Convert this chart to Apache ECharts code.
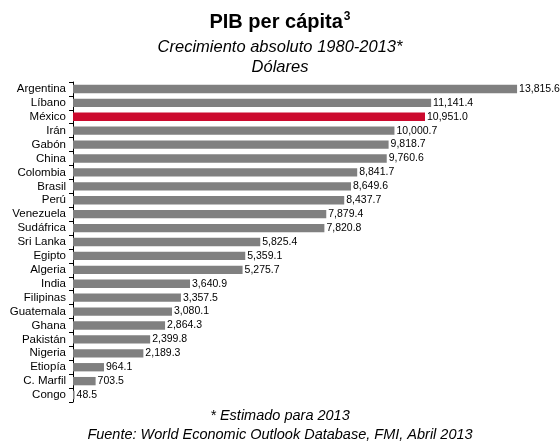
<!DOCTYPE html>
<html>
<head>
<meta charset="utf-8">
<script src="https://cdn.jsdelivr.net/npm/echarts@6/dist/echarts.min.js"></script>
<style>
  html, body { margin: 0; padding: 0; background: #fff; }
  #chart { width: 560px; height: 441px; }
</style>
</head>
<body>
<div id="chart"></div>
<script>
// Countries, top to bottom
const countries = ['Argentina','Líbano','México','Irán','Gabón','China','Colombia','Brasil','Perú','Venezuela','Sudáfrica','Sri Lanka','Egipto','Algeria','India','Filipinas','Guatemala','Ghana','Pakistán','Nigeria','Etiopía','C. Marfil','Congo'];
// Absolute growth of GDP per capita 1980-2013, dollars
const growth = [13815.6,11141.4,10951.0,10000.7,9818.7,9760.6,8841.7,8649.6,8437.7,7879.4,7820.8,5825.4,5359.1,5275.7,3640.9,3357.5,3080.1,2864.3,2399.8,2189.3,964.1,703.5,48.5];
const highlight = 'México';

const FONT = '"Liberation Sans", Arial, sans-serif';
const fmt = v => v.toLocaleString('en-US', { minimumFractionDigits: 1, maximumFractionDigits: 1 });

const chart = echarts.init(document.getElementById('chart'));
chart.setOption({
  animation: false,
  title: [
    {
      text: '{t|PIB per cápita}{s|3}',
      left: 'center', top: 6,
      textStyle: {
        rich: {
          t: { fontFamily: FONT, fontSize: 20, fontWeight: 'bold', color: '#000' },
          s: { fontFamily: FONT, fontSize: 12, fontWeight: 'bold', color: '#000', verticalAlign: 'top', padding: [0, 0, 10, 1] }
        }
      }
    },
    {
      text: 'Crecimiento absoluto 1980-2013*\nDólares',
      left: 'center', top: 32,
      textStyle: { fontFamily: FONT, fontSize: 16.5, fontStyle: 'italic', fontWeight: 'normal', color: '#000', lineHeight: 20 }
    },
    {
      text: '* Estimado para 2013\nFuente: World Economic Outlook Database, FMI, Abril 2013',
      left: 'center', top: 401,
      textStyle: { fontFamily: FONT, fontSize: 14.5, fontStyle: 'italic', fontWeight: 'normal', color: '#000', lineHeight: 19 }
    }
  ],
  grid: { left: 73, width: 450, top: 82, bottom: 39, containLabel: false },
  xAxis: {
    type: 'value', min: 0, max: 14000, show: false
  },
  yAxis: {
    type: 'category', inverse: true, data: countries,
    axisLine: { show: true, lineStyle: { color: '#000', width: 1 } },
    axisTick: { show: true, length: 4, inside: false, interval: 0, lineStyle: { color: '#000' } },
    axisLabel: { fontFamily: FONT, fontSize: 11.5, color: '#000', margin: 7, interval: 0 },
    splitLine: { show: false }
  },
  series: [{
    type: 'bar',
    barCategoryGap: '40%',
    data: growth.map((v, i) => ({
      value: v,
      itemStyle: { color: countries[i] === highlight ? '#cc0a2e' : '#808080' }
    })),
    label: {
      show: true, position: 'right', distance: 2,
      fontFamily: FONT, fontSize: 10.5, color: '#000',
      formatter: p => fmt(p.value)
    }
  }]
});
</script>
</body>
</html>
